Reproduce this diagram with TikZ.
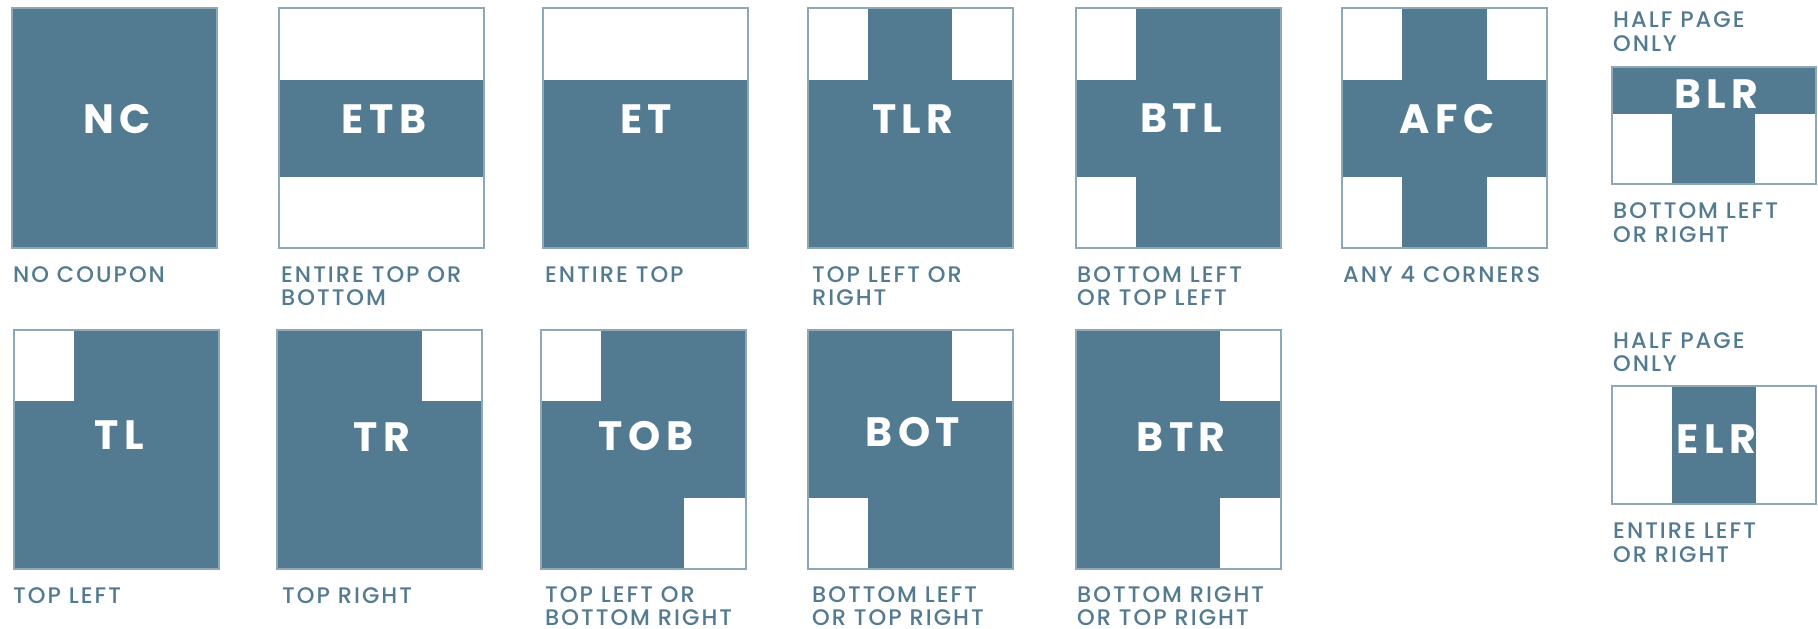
\documentclass[tikz,border=0pt]{standalone}
\usepackage{fontspec}
\setmainfont{Poppins}
\newfontfamily\codefam[LetterSpace=13]{Poppins}
\newfontfamily\labfam[LetterSpace=9,UprightFont=* Medium]{Poppins}
\definecolor{cblue}{HTML}{527A90}
\definecolor{cedge}{HTML}{8EA8B8}
\begin{document}
\begin{tikzpicture}[x=1pt,y=-1pt,
  panel/.style={fill=cblue},
  hole/.style={fill=white},
  frame/.style={draw=cedge,line width=1.1pt},
  code/.style={text=white,font=\codefam\bfseries\fontsize{41}{41}\selectfont,anchor=base,inner sep=0pt},
  lab/.style={text=cblue,font=\labfam\fontsize{22.5}{23.5}\selectfont,anchor=base west,inner sep=0pt,align=left}]
\useasboundingbox[fill=white] (0,0) rectangle (1818,629);
% ---------- row 1 ----------
% NC
\fill[panel] (12,8) rectangle (217,248);
\draw[frame] (12,8) rectangle (217,248);
\node[code] (nc) at (117,133) {NC};
\node[lab] (ncl) at (13,282) {NO COUPON};
% ETB
\fill[panel] (279,80) rectangle (484,177);
\draw[frame] (279,8) rectangle (484,248);
\node[code] (etb) at (384,133) {ETB};
\node[lab] (etbl) at (281,305.5) {ENTIRE TOP OR\\BOTTOM};
% ET
\fill[panel] (543,80) rectangle (748,248);
\draw[frame] (543,8) rectangle (748,248);
\node[code] (et) at (646,133) {ET};
\node[lab] (etl) at (545,282) {ENTIRE TOP};
% TLR
\fill[panel] (808,8) rectangle (1013,248);
\fill[hole] (808,8) rectangle (868,80);
\fill[hole] (952,8) rectangle (1013,80);
\draw[frame] (808,8) rectangle (1013,248);
\node[code] (tlr) at (913,133) {TLR};
\node[lab] (tlrl) at (812,305.5) {TOP LEFT OR\\RIGHT};
% BTL
\fill[panel] (1076,8) rectangle (1281,248);
\fill[hole] (1076,8) rectangle (1136,80);
\fill[hole] (1076,177) rectangle (1136,248);
\draw[frame] (1076,8) rectangle (1281,248);
\node[code] (btl) at (1181,132) {BTL};
\node[lab] (btll) at (1077,305.5) {BOTTOM LEFT\\OR TOP LEFT};
% AFC
\fill[panel] (1342,8) rectangle (1547,248);
\fill[hole] (1342,8) rectangle (1402,80);
\fill[hole] (1487,8) rectangle (1547,80);
\fill[hole] (1342,177) rectangle (1402,248);
\fill[hole] (1487,177) rectangle (1547,248);
\draw[frame] (1342,8) rectangle (1547,248);
\node[code] (afc) at (1447,133) {AFC};
\node[lab] (afcl) at (1343,282) {ANY 4 CORNERS};
% BLR
\node[lab] (hp1) at (1613,51) {HALF PAGE\\ONLY};
\fill[panel] (1612,67) rectangle (1816,184);
\fill[hole] (1612,114) rectangle (1672,184);
\fill[hole] (1755,114) rectangle (1816,184);
\draw[frame] (1612,67) rectangle (1816,184);
\node[code] (blr) at (1716.5,108) {BLR};
\node[lab] (blrl) at (1613,242) {BOTTOM LEFT\\OR RIGHT};
% ---------- row 2 ----------
% TL
\fill[panel] (14,330) rectangle (219,569);
\fill[hole] (14,330) rectangle (74,401);
\draw[frame] (14,330) rectangle (219,569);
\node[code] (tl) at (119,449) {TL};
\node[lab] (tll) at (13,603) {TOP LEFT};
% TR
\fill[panel] (277,330) rectangle (482,569);
\fill[hole] (422,330) rectangle (482,401);
\draw[frame] (277,330) rectangle (482,569);
\node[code] (tr) at (382,451) {TR};
\node[lab] (trl) at (282,603) {TOP RIGHT};
% TOB
\fill[panel] (541,330) rectangle (746,569);
\fill[hole] (541,330) rectangle (601,401);
\fill[hole] (684,498) rectangle (746,569);
\draw[frame] (541,330) rectangle (746,569);
\node[code] (tob) at (646,450) {TOB};
\node[lab] (tobl) at (545,625.5) {TOP LEFT OR\\BOTTOM RIGHT};
% BOT
\fill[panel] (808,330) rectangle (1013,569);
\fill[hole] (952,330) rectangle (1013,401);
\fill[hole] (808,498) rectangle (868,569);
\draw[frame] (808,330) rectangle (1013,569);
\node[code] (bot) at (913,446) {BOT};
\node[lab] (botl) at (812,625.5) {BOTTOM LEFT\\OR TOP RIGHT};
% BTR
\fill[panel] (1076,330) rectangle (1281,569);
\fill[hole] (1220,330) rectangle (1281,401);
\fill[hole] (1220,498) rectangle (1281,569);
\draw[frame] (1076,330) rectangle (1281,569);
\node[code] (btr) at (1181,451) {BTR};
\node[lab] (btrl) at (1077,625.5) {BOTTOM RIGHT\\OR TOP RIGHT};
% ELR
\node[lab] (hp2) at (1613,371.5) {HALF PAGE\\ONLY};
\fill[panel] (1672,386) rectangle (1756,504);
\draw[frame] (1612,386) rectangle (1816,504);
\node[code] (elr) at (1716.5,453) {ELR};
\node[lab] (elrl) at (1613,562) {ENTIRE LEFT\\OR RIGHT};
\end{tikzpicture}
\end{document}
